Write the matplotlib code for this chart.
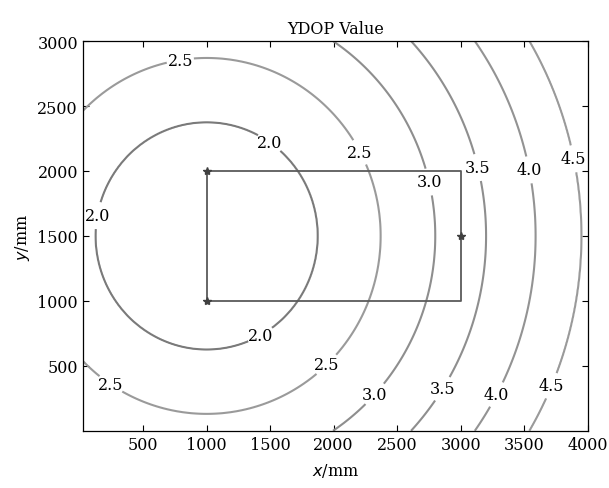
"""
ydop_map.py — YDOP contour map over the working area.

Draws iso-YDOP contours around the reference node together with the
rectangular test region and the three anchor positions. Writes out.png.
"""

import numpy as np
import matplotlib
matplotlib.use("Agg")
import matplotlib.pyplot as plt

# contour levels and the radius (mm) at which each level sits,
# measured from the centre node
LEVELS = [2.0, 2.5, 3.0, 3.5, 4.0, 4.5]
LEVEL_RADII = [875, 1370, 1800, 2200, 2590, 2950]
CENTER = (1000, 1500)

# rectangular test region and anchor nodes (mm)
RECT_X = [1000, 3000, 3000, 1000, 1000]
RECT_Y = [2000, 2000, 1000, 1000, 2000]
ANCHOR_X = [1000, 1000, 3000]
ANCHOR_Y = [2000, 1000, 1500]

# where the contour labels sit (mm)
LABEL_POS = [
    (787, 2884), (1496, 2220), (2220, 2151), (2772, 1920), (3205, 2043),
    (3559, 2012), (3874, 2089), (220, 1642), (1433, 717), (252, 370),
    (1953, 501), (2339, 270), (2843, 331), (3331, 254), (3780, 316),
]

X_TICKS = [500, 1000, 1500, 2000, 2500, 3000, 3500, 4000]
Y_TICKS = [500, 1000, 1500, 2000, 2500, 3000]

LINE_COLORS = ["#7a7a7a", "#9a9a9a", "#8e8e8e", "#8e8e8e", "#939393", "#9a9a9a"]
FONT = "DejaVu Serif"


def main() -> None:
    plt.rcParams["font.family"] = FONT

    xs = np.linspace(25, 4000, 500)
    ys = np.linspace(0, 3000, 400)
    gx, gy = np.meshgrid(xs, ys)
    r = np.hypot(gx - CENTER[0], gy - CENTER[1])
    # piecewise-linear in radius through the level radii, padded at both ends
    z = np.interp(r, [0] + LEVEL_RADII + [4000],
                  [1.5] + LEVELS + [5.3])

    fig = plt.figure(figsize=(6.09, 4.89), dpi=100)
    ax = fig.add_axes([0.136, 0.117, 0.829, 0.797])

    cs = ax.contour(gx, gy, z, levels=LEVELS, colors=LINE_COLORS,
                    linewidths=1.5)
    labels = ax.clabel(cs, fmt="%.1f", fontsize=11.5, colors="black",
                       manual=LABEL_POS, inline=True, inline_spacing=1)
    for t in labels:
        t.set_rotation(0)  # keep labels upright

    ax.plot(RECT_X, RECT_Y, color="#5a5a5a", linewidth=1.3)
    ax.plot(ANCHOR_X, ANCHOR_Y, linestyle="none", marker="*",
            markersize=6, color="#404040")

    ax.set_xlim(25, 4000)
    ax.set_ylim(0, 3000)
    ax.set_xticks(X_TICKS)
    ax.set_yticks(Y_TICKS)
    ax.tick_params(direction="in", top=True, right=True, length=4.5,
                   labelsize=11.5, width=0.8)
    for sp in ax.spines.values():
        sp.set_linewidth(0.9)

    ax.set_title("YDOP Value", fontsize=11.5, pad=6)
    ax.set_xlabel("$x$/mm", fontsize=11.5, labelpad=6)
    ax.set_ylabel("$y$/mm", fontsize=11.5, labelpad=4)

    fig.savefig("out.png", dpi=100)
    plt.close(fig)


if __name__ == "__main__":
    main()
